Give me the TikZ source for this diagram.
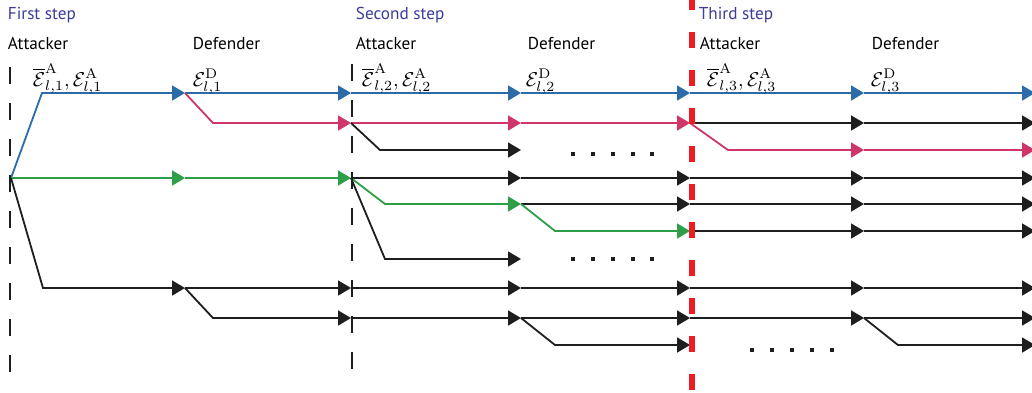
\documentclass[tikz,border=0pt]{standalone}
\usepackage{fontspec}
\usepackage{graphicx}
\setsansfont{PT Sans}
\usetikzlibrary{arrows.meta}
\definecolor{cblue}{RGB}{43,108,168}
\definecolor{cmag}{RGB}{208,53,106}
\definecolor{cgreen}{RGB}{46,158,72}
\definecolor{cred}{RGB}{238,29,36}
\definecolor{ctxt}{RGB}{60,60,156}
\definecolor{cblack}{RGB}{30,30,30}
\newcommand{\mlab}[1]{\scalebox{2.0}{$#1$}}
\begin{document}
\begin{tikzpicture}[x=1pt,y=-1pt,line width=1.8pt,
  arr/.style={-{Triangle[length=13pt,width=15pt]}},
  lineblue/.style={cblue,arr},
  linemag/.style={cmag,arr},
  linegreen/.style={cgreen,arr},
  lineblack/.style={cblack,arr},
  steptxt/.style={anchor=base west,inner sep=0pt,font=\sffamily\fontsize{17.2}{19}\selectfont,text=ctxt},
  roletxt/.style={anchor=base west,inner sep=0pt,font=\sffamily\fontsize{17.2}{19}\selectfont,text=black},
  mathtxt/.style={anchor=base west,inner sep=0pt,font=\fontsize{10}{12}\selectfont},
  vdash/.style={cblack,line width=1.6pt,dash pattern=on 17pt off 19pt},
  reddash/.style={cred,line width=6pt,dash pattern=on 16pt off 22pt,dash phase=6pt},
  dotbox/.style={fill=cblack,draw=none}]
\clip (0,0) rectangle (1032,392);
\fill[white] (0,0) rectangle (1032,392);

% grid of coordinates
\foreach \c/\x in {1/185,2/351,3/521,4/690,5/864,6/1035}
  \foreach \r/\y in {1/93,2/123,3/150,4/178,5/204,6/231,7/259,8/288,9/318,10/345}
    \coordinate (p\c-\r) at (\x,\y);
\coordinate (root) at (11,178);
\coordinate (b0-1) at (42,93);
\coordinate (b0-8) at (43,288);
\coordinate (b1-2) at (213,123);
\coordinate (b1-9) at (213,318);
\coordinate (b2-3) at (380,150);
\coordinate (b2-5) at (385,204);
\coordinate (b2-7) at (385,259);
\coordinate (b3-6) at (555,231);
\coordinate (b3-10) at (555,345);
\coordinate (b4-3) at (728,150);
\coordinate (b5-10) at (898,345);

% row 1 (blue)
\draw[lineblue] (root) -- (b0-1) -- (p1-1);
\foreach \a/\b in {1/2,2/3,3/4,4/5,5/6} \draw[lineblue] (p\a-1) -- (p\b-1);
% row 2
\draw[linemag] (p1-1) -- (b1-2) -- (p2-2);
\foreach \a/\b in {2/3,3/4} \draw[linemag] (p\a-2) -- (p\b-2);
\foreach \a/\b in {4/5,5/6} \draw[lineblack] (p\a-2) -- (p\b-2);
% row 3
\draw[lineblack] (p2-2) -- (b2-3) -- (p3-3);
\draw[linemag] (p4-2) -- (b4-3) -- (p5-3);
\draw[linemag] (p5-3) -- (p6-3);
% row 4
\draw[linegreen] (root) -- (p1-4);
\draw[linegreen] (p1-4) -- (p2-4);
\foreach \a/\b in {2/3,3/4,4/5,5/6} \draw[lineblack] (p\a-4) -- (p\b-4);
% row 5
\draw[linegreen] (p2-4) -- (b2-5) -- (p3-5);
\foreach \a/\b in {3/4,4/5,5/6} \draw[lineblack] (p\a-5) -- (p\b-5);
% row 6
\draw[linegreen] (p3-5) -- (b3-6) -- (p4-6);
\foreach \a/\b in {4/5,5/6} \draw[lineblack] (p\a-6) -- (p\b-6);
% row 7
\draw[lineblack] (p2-4) -- (b2-7) -- (p3-7);
% row 8
\draw[lineblack] (root) -- (b0-8) -- (p1-8);
\foreach \a/\b in {1/2,2/3,3/4,4/5,5/6} \draw[lineblack] (p\a-8) -- (p\b-8);
% row 9
\draw[lineblack] (p1-8) -- (b1-9) -- (p2-9);
\foreach \a/\b in {2/3,3/4,4/5,5/6} \draw[lineblack] (p\a-9) -- (p\b-9);
% row 10
\draw[lineblack] (p3-9) -- (b3-10) -- (p4-10);
\draw[lineblack] (p5-9) -- (b5-10) -- (p6-10);

% dots
\foreach \x in {573,593,613,633,652} {
  \fill[dotbox] (\x-2.3,151.7) rectangle (\x+2.3,156.3);
  \fill[dotbox] (\x-2.3,256.7) rectangle (\x+2.3,261.3);
}
\foreach \x in {752,772,792,812,832}
  \fill[dotbox] (\x-2.3,347.7) rectangle (\x+2.3,352.3);

% dashed separators
\coordinate (d1t) at (10,67); \coordinate (d1b) at (10,382);
\coordinate (d2t) at (352,64); \coordinate (d2b) at (352,382);
\coordinate (d3t) at (692,0); \coordinate (d3b) at (692,392);
\draw[vdash] (d1t) -- (d1b);
\draw[vdash] (d2t) -- (d2b);
\draw[reddash] (d3t) -- (d3b);

% texts
\node[steptxt] (s1) at (7,19) {First step};
\node[steptxt] (s2) at (355,19) {Second step};
\node[steptxt] (s3) at (698,19) {Third step};
\node[roletxt] (a1) at (7,49) {Attacker};
\node[roletxt] (f1) at (192,49) {Defender};
\node[roletxt] (a2) at (355,49) {Attacker};
\node[roletxt] (f2) at (527,49) {Defender};
\node[roletxt] (a3) at (699,49) {Attacker};
\node[roletxt] (f3) at (871,49) {Defender};
\node[mathtxt] (e1) at (32,86) {\mlab{\overline{\mathcal{E}}^{\mathrm{A}}_{l,1},\mathcal{E}^{\mathrm{A}}_{l,1}}};
\node[mathtxt] (g1) at (192,86) {\mlab{\mathcal{E}^{\mathrm{D}}_{l,1}}};
\node[mathtxt] (e2) at (361,86) {\mlab{\overline{\mathcal{E}}^{\mathrm{A}}_{l,2},\mathcal{E}^{\mathrm{A}}_{l,2}}};
\node[mathtxt] (g2) at (525,86) {\mlab{\mathcal{E}^{\mathrm{D}}_{l,2}}};
\node[mathtxt] (e3) at (706,86) {\mlab{\overline{\mathcal{E}}^{\mathrm{A}}_{l,3},\mathcal{E}^{\mathrm{A}}_{l,3}}};
\node[mathtxt] (g3) at (870,86) {\mlab{\mathcal{E}^{\mathrm{D}}_{l,3}}};
\end{tikzpicture}
\end{document}
